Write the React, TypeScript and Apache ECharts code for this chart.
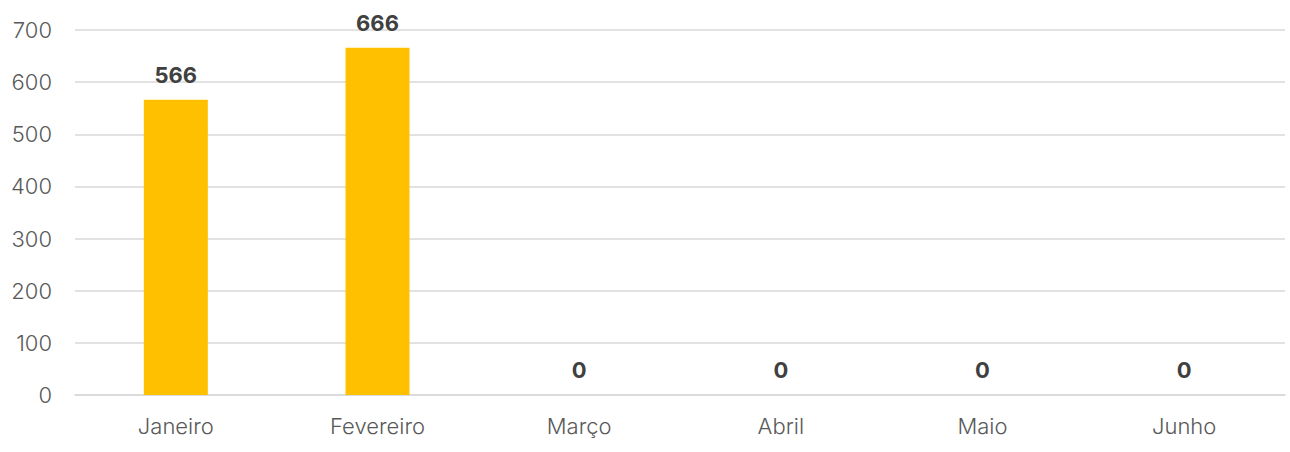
import React, { useEffect, useRef } from "react";
import * as echarts from "echarts";

const categories = ["Janeiro", "Fevereiro", "Março", "Abril", "Maio", "Junho"];
const values = [566, 666, 0, 0, 0, 0];
const yTicks = [0, 100, 200, 300, 400, 500, 600, 700];

export default function App() {
  const ref = useRef<HTMLDivElement>(null);
  useEffect(() => {
    if (!ref.current) return;
    const chart = echarts.init(ref.current, null, { renderer: "svg" });
    const font = "Inter, 'Noto Sans', sans-serif";
    chart.setOption({
      animation: false,
      grid: { left: 75, right: 5, top: 30, bottom: 57, containLabel: false },
      xAxis: {
        type: "category",
        data: categories,
        axisLine: { show: true, lineStyle: { color: "#d9d9d9", width: 1.5 } },
        axisTick: { show: false },
        axisLabel: { color: "#595959", fontSize: 22, fontWeight: 300, fontFamily: font, margin: 20 },
      },
      yAxis: {
        type: "value",
        min: yTicks[0],
        max: yTicks[yTicks.length - 1],
        interval: 100,
        axisLine: { show: false },
        axisTick: { show: false },
        splitLine: { lineStyle: { color: "#d9d9d9", width: 1.5 } },
        axisLabel: { color: "#595959", fontSize: 22, fontWeight: 300, fontFamily: font, margin: 23 },
      },
      series: [
        {
          type: "bar",
          data: values,
          barWidth: 64,
          itemStyle: { color: "#ffc000" },
          label: {
            show: true,
            position: "top",
            distance: 14,
            color: "#404040",
            fontSize: 22,
            fontWeight: "bold",
            fontFamily: font,
          },
        },
      ],
    });
    return () => chart.dispose();
  }, []);
  return (
    <div
      ref={ref}
      style={{ position: "absolute", left: 0, top: 0, width: 1290, height: 452, background: "#fff" }}
    />
  );
}
